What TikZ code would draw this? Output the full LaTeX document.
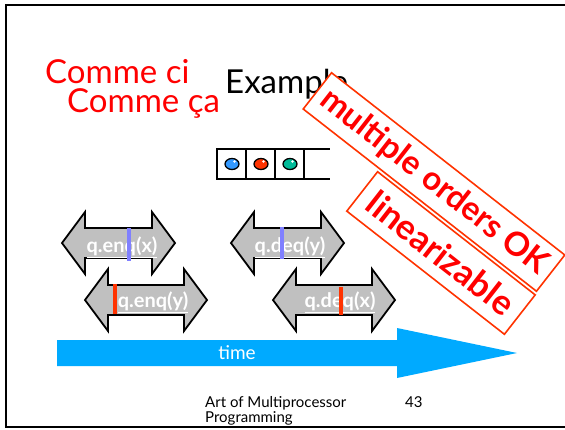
\documentclass[tikz,border=0pt]{standalone}
\usepackage{fontspec}
\setmainfont{Lato}
\definecolor{boxred}{HTML}{FF3300}
\definecolor{barblue}{HTML}{8080FF}
\definecolor{barred}{HTML}{FF3300}
\definecolor{timecyan}{HTML}{00AAFF}
\definecolor{opgray}{HTML}{C0C0C0}
\definecolor{ballblue}{HTML}{3399FF}
\definecolor{ballred}{HTML}{FF3300}
\definecolor{ballgreen}{HTML}{00BB99}

\begin{document}
\begin{tikzpicture}[x=1pt, y=-1pt, line join=miter,
    opbox/.style={draw=black, fill=opgray, line width=1.8pt},
    oplabel/.style={white, inner sep=0pt, font=\fontsize{20}{20}\selectfont\bfseries},
    ball/.style={draw=black, line width=1.3pt},
    stamp/.style={draw=boxred, fill=white, line width=1.6pt, text=red, rotate=-38, inner sep=0pt}]
      \useasboundingbox (0,0) rectangle (565,429);
      % rand der folie
      \draw[line width=2pt] (565,5) -- (6,5) -- (6,427) -- (565,427);
      % titel
      \node[anchor=base west, red, inner sep=0pt, font=\fontsize{33}{33}\selectfont] (ci) at (45,83) {Comme ci};
      \node[anchor=base west, red, inner sep=0pt, font=\fontsize{33}{33}\selectfont] (ca) at (67,112) {Comme ça};
      \node[anchor=base west, inner sep=0pt, font=\fontsize{33}{33}\selectfont] (title) at (225,93) {Example};
      % warteschlange mit drei elementen
      \draw[line width=1.8pt] (217,149) rectangle (304,179);
      \draw[line width=1.8pt] (246,149) -- (246,179) (275,149) -- (275,179);
      \draw[line width=1.8pt] (304,149) -- (330,149) (304,179) -- (330,179);
      \foreach \cx/\col in {232/ballblue, 261/ballred, 290/ballgreen} {
        \draw[ball, fill=\col] (\cx,164) ellipse (7pt and 5.5pt);
        \fill[white] (\cx+2.5,161.5) circle (1.3pt);
      }
      % methodenaufrufe als doppelpfeile
      \foreach \l/\r/\y in {62/175/243, 85/207/300, 231/344/243, 273/395/300}
        \draw[opbox] (\l,\y) -- (\l+23,\y-31) -- (\l+23,\y-15) -- (\r-23,\y-15) -- (\r-23,\y-31)
          -- (\r,\y) -- (\r-23,\y+31) -- (\r-23,\y+15) -- (\l+23,\y+15) -- (\l+23,\y+31) -- cycle;
      \node[oplabel] (enqx) at (122,247) {\underline{q.enq(x)}};
      \node[oplabel] (enqy) at (153,302) {\underline{q.enq(y)}};
      \node[oplabel] (deqy) at (290,247) {\underline{q.deq(y)}};
      \node[oplabel] (deqx) at (340,302) {\underline{q.deq(x)}};
      % linearisierungspunkte
      \draw[barblue, line width=4pt] (129,228) -- (129,261);
      \draw[barblue, line width=4pt] (282,227) -- (282,259);
      \draw[barred, line width=4pt] (115,284) -- (115,314);
      \draw[barred, line width=4pt] (341,287) -- (341,315);
      % zeitachse
      \fill[timecyan] (57,340) -- (397,340) -- (397,328) -- (517,353) -- (397,378) -- (397,366) -- (57,366) -- cycle;
      \node[white, font=\fontsize{19}{19}\selectfont] (time) at (237,353) {time};
      % stempel
      \node[stamp, minimum width=296pt, minimum height=46pt, font=\fontsize{33}{33}\selectfont\bfseries] (multi) at (434,182) {multiple orders OK};
      \node[stamp, minimum width=200pt, minimum height=50pt, font=\fontsize{35}{35}\selectfont\bfseries] (lin) at (441,253) {linearizable};
      % fusszeile
      \node[anchor=base west, inner sep=0pt, font=\fontsize{15}{15}\selectfont] (book) at (205,407) {Art of Multiprocessor};
      \node[anchor=base west, inner sep=0pt, font=\fontsize{15}{15}\selectfont] (book2) at (205,422) {Programming};
      \node[anchor=base west, inner sep=0pt, font=\fontsize{15}{15}\selectfont] (page) at (405,407) {43};
\end{tikzpicture}
\end{document}
